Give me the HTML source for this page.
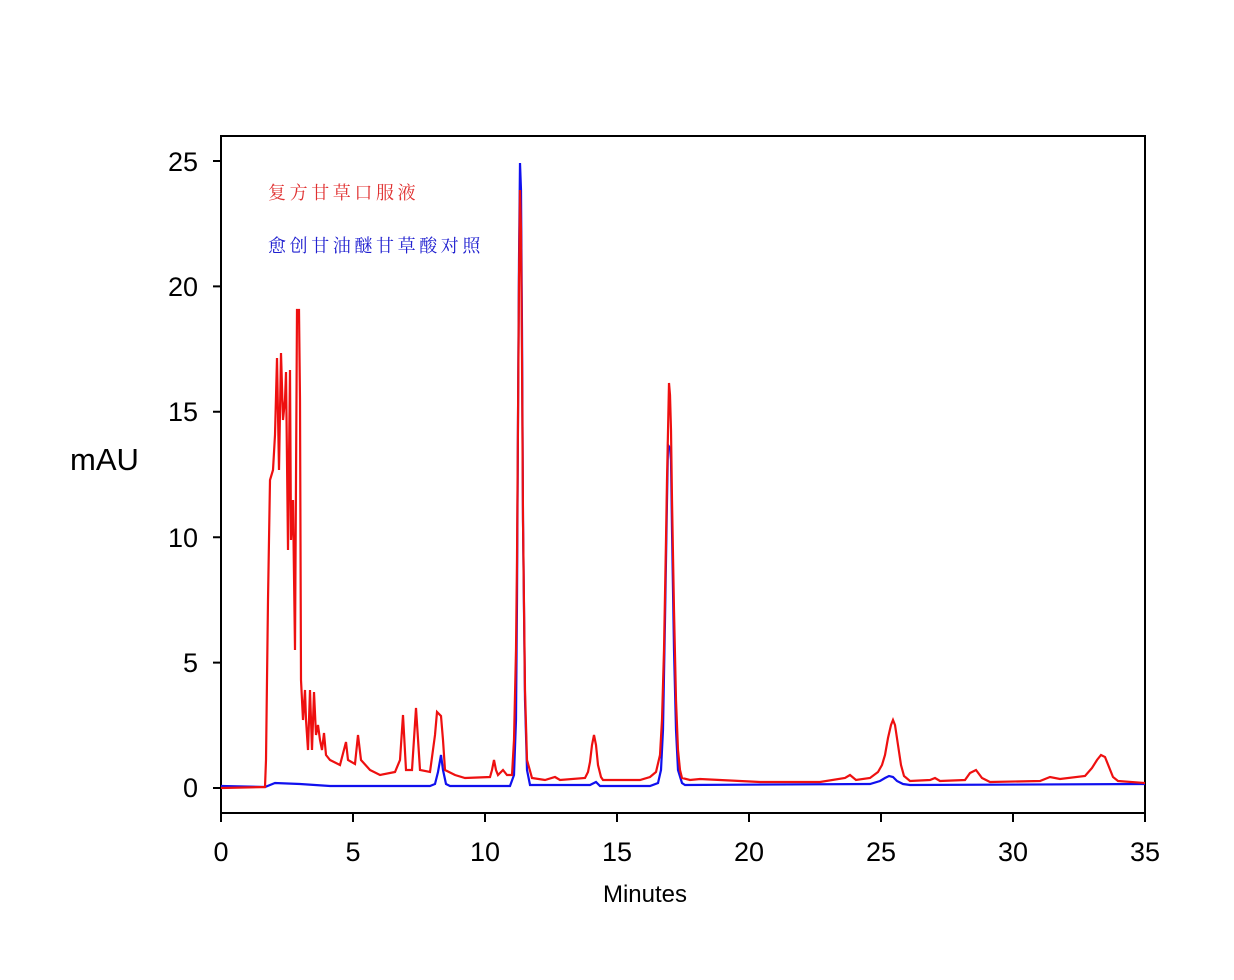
<!DOCTYPE html>
<html><head><meta charset="utf-8"><style>
html,body{margin:0;padding:0;background:#fff;}
svg{display:block;}
</style></head><body>
<svg width="1234" height="980" xmlns="http://www.w3.org/2000/svg">
<rect width="1234" height="980" fill="#fff"/>
<g stroke="#000" stroke-width="2" fill="none">
<rect x="221" y="136" width="924" height="677"/>
<path d="M213 161H221M213 286.4H221M213 411.8H221M213 537.2H221M213 662.6H221M213 788H221"/>
<path d="M221 813V822M353 813V822M485 813V822M617 813V822M749 813V822M881 813V822M1013 813V822M1145 813V822"/>
</g>
<g font-family="Liberation Sans, sans-serif" font-size="27" fill="#000" text-anchor="end">
<text x="198" y="171">25</text><text x="198" y="296">20</text><text x="198" y="421">15</text>
<text x="198" y="547">10</text><text x="198" y="672">5</text><text x="198" y="797">0</text>
</g>
<g font-family="Liberation Sans, sans-serif" font-size="27" fill="#000" text-anchor="middle">
<text x="221" y="861">0</text><text x="353" y="861">5</text><text x="485" y="861">10</text><text x="617" y="861">15</text>
<text x="749" y="861">20</text><text x="881" y="861">25</text><text x="1013" y="861">30</text><text x="1145" y="861">35</text>
<text x="645" y="902" font-size="24">Minutes</text>
</g>
<text x="70" y="470" font-family="Liberation Sans, sans-serif" font-size="31" fill="#000">mAU</text>
<text x="268" y="199" font-family="'Noto Serif CJK SC', serif" font-size="18" fill="#e03030" letter-spacing="3.6">复方甘草口服液</text>
<text x="268" y="252" font-family="'Noto Serif CJK SC', serif" font-size="18" fill="#2020d0" letter-spacing="3.6">愈创甘油醚甘草酸对照</text>
<polyline fill="none" stroke="#1010ee" stroke-width="2.2" points="221,786 265,787 275,783 300,784 330,786 430,786 435,784 438,772 441,755 443,770 446,784 450,786 510,786 514,775 516,720 517,600 518,420 519,260 520,163 521,190 522,330 523,520 525,700 527,770 530,785 590,785 596,782 600,786 650,786 658,783 661,770 663,730 665,620 667,500 668,445 670,448 671,460 672,530 674,650 676,730 678,770 682,783 685,785 870,784 880,781 885,778 889,776 893,777 897,781 903,784 910,785 1145,784"/>
<polyline fill="none" stroke="#ee1010" stroke-width="2.2" points="221,788 265,787 266,760 268,600 270,480 273,470 275,435 277,358 279,470 281,353 283,420 285,400 286,372 288,550 290,370 291,540 293,500 295,650 297,310 299,310 300,400 301,680 303,720 305,690 306,720 308,750 310,690 312,750 314,692 316,735 318,725 320,740 322,750 324,733 326,755 330,760 340,765 346,742 348,760 355,764 358,735 361,760 370,770 380,775 395,772 400,760 403,715 406,770 412,770 416,708 420,770 430,772 435,735 437,712 441,716 443,740 445,770 455,775 465,778 490,777 492,770 494,760 496,770 498,775 503,770 507,775 512,775 514,740 516,650 517,560 518,420 519,280 520,190 521,230 522,360 523,520 525,690 527,760 532,778 545,780 555,777 560,780 585,778 588,772 590,762 592,745 594,735 596,745 598,765 601,777 603,780 640,780 650,777 656,772 660,755 662,720 664,650 666,540 667,480 669,383 670,395 671,430 672,500 674,610 676,700 678,750 680,770 682,778 690,780 700,779 760,782 820,782 845,778 850,775 856,780 870,778 878,772 882,765 885,755 888,738 891,725 893,720 895,725 898,745 901,765 904,776 910,781 930,780 935,778 940,781 965,780 970,773 976,770 982,778 990,782 1040,781 1050,777 1060,779 1085,776 1092,768 1097,760 1101,755 1105,757 1109,767 1113,777 1118,781 1145,783"/>
</svg>
</body></html>
